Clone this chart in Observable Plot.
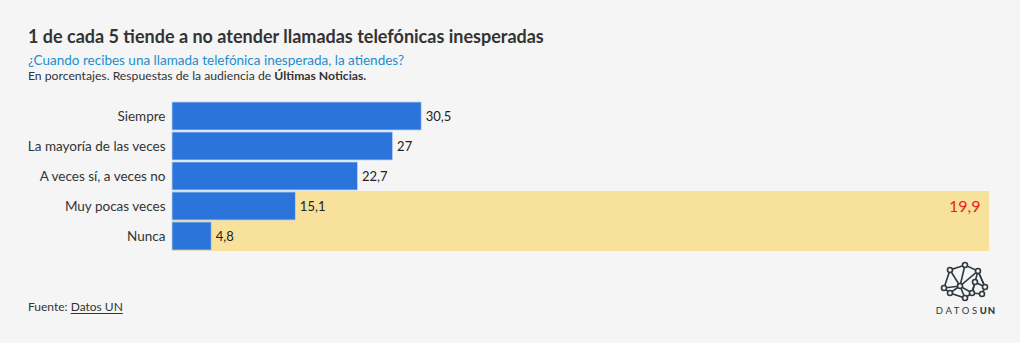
<!DOCTYPE html>
<html><head><meta charset="utf-8">
<script src="https://cdn.jsdelivr.net/npm/d3@7"></script>
<script src="https://cdn.jsdelivr.net/npm/@observablehq/plot@0.6"></script>
<style>
body{margin:0;background:#f5f5f5;font-family:"Open Sans",sans-serif;}
#wrap{position:relative;width:1020px;height:343px;overflow:hidden;background:#f5f5f5;}
#title{position:absolute;left:28px;top:25px;font-family:Lato,sans-serif;font-weight:700;font-size:18px;color:#333;white-space:nowrap;}
#sub{position:absolute;left:28px;top:52px;font-family:Lato,sans-serif;font-size:13.5px;color:#1a8ed1;white-space:nowrap;}
#desc{position:absolute;left:28px;top:68px;font-family:Lato,sans-serif;font-size:12.2px;color:#333;white-space:nowrap;}
#chart{position:absolute;left:0;top:88px;}
#foot{position:absolute;left:28px;top:299px;font-family:Lato,sans-serif;font-size:12px;color:#333;}
#foot u{text-underline-offset:2px;}
#logo{position:absolute;left:930px;top:260px;}
</style></head>
<body><div id="wrap">
<div id="title">1 de cada 5 tiende a no atender llamadas telefónicas inesperadas</div>
<div id="sub">¿Cuando recibes una llamada telefónica inesperada, la atiendes?</div>
<div id="desc">En porcentajes. Respuestas de la audiencia de <b>Últimas Noticias.</b></div>
<div id="chart"></div>
<div id="foot">Fuente: <u>Datos UN</u></div>
<svg id="logo" width="75" height="60" viewBox="0 0 75 60">
  <g stroke="#2e3a3e" stroke-width="1.6" fill="none">
    <polyline points="14,28 20,10 35,5 48,11 55,27 52,34 42,33 30,26 14,28"/>
    <polyline points="14,28 20,33 30,26 35,5"/>
    <polyline points="20,10 30,26 48,11 42,33 35,38 20,33"/>
    <polyline points="42,33 45,22 55,27"/>
    <polyline points="35,38 30,26"/>
    <polyline points="48,11 55,27"/>
  </g>
  <g fill="#f5f5f5" stroke="#2e3a3e" stroke-width="1.6">
    <circle cx="14" cy="28" r="2.5"/><circle cx="20" cy="10" r="2.5"/><circle cx="35" cy="5" r="2.5"/>
    <circle cx="48" cy="11" r="2.5"/><circle cx="55" cy="27" r="2.5"/><circle cx="52" cy="34" r="2.5"/>
    <circle cx="42" cy="33" r="2.5"/><circle cx="30" cy="26" r="2.5"/><circle cx="20" cy="33" r="2.5"/>
    <circle cx="35" cy="38" r="2.5"/><circle cx="45" cy="22" r="2.5"/>
  </g>
  <text x="36" y="54" text-anchor="middle" font-family="Lato,sans-serif" font-size="9.5" letter-spacing="2.6" fill="#2e3a3e">DATOS<tspan font-weight="900" letter-spacing="1">UN</tspan></text>
</svg>
</div>
<script>
const categories = ["Siempre","La mayoría de las veces","A veces sí, a veces no","Muy pocas veces","Nunca"];
const values = [30.5, 27, 22.7, 15.1, 4.8];
const highlightCategories = ["Muy pocas veces","Nunca"];
const highlightTotal = 19.9;

const data = categories.map((c,i)=>({cat:c, value:values[i]}));
const band = highlightCategories.map(c=>({cat:c, value:100}));
const fmt = v => String(v).replace(".", ",");

const chart = Plot.plot({
  width: 1020,
  height: 166,
  marginLeft: 172,
  marginRight: 31,
  marginTop: 12,
  marginBottom: 3,
  style: {background:"transparent", fontFamily:"Lato, sans-serif", fontSize:"13.5px", color:"#333"},
  x: {domain:[0,100], axis:null},
  y: {domain: categories, padding: 0, label:null, tickSize:0, tickPadding:7},
  marks: [
    Plot.barX(band, {y:"cat", x:"value", fill:"#f8e19a", inset:0}),
    Plot.barX(data, {y:"cat", x:"value", fill:"#2b74db", stroke:"#b9d2f3", strokeWidth:0.8, insetTop:1, insetBottom:1}),
    Plot.text(data, {y:"cat", x:"value", text: d=>fmt(d.value), textAnchor:"start", dx:4, fill:"#222", fontSize:13}),
    Plot.text([{cat:highlightCategories[0], value:100, label:fmt(highlightTotal)}], {y:"cat", x:"value", text:"label", textAnchor:"end", dx:-9, fill:"#e3251f", fontSize:16})
  ]
});
document.getElementById("chart").appendChild(chart);
</script>
</body></html>
